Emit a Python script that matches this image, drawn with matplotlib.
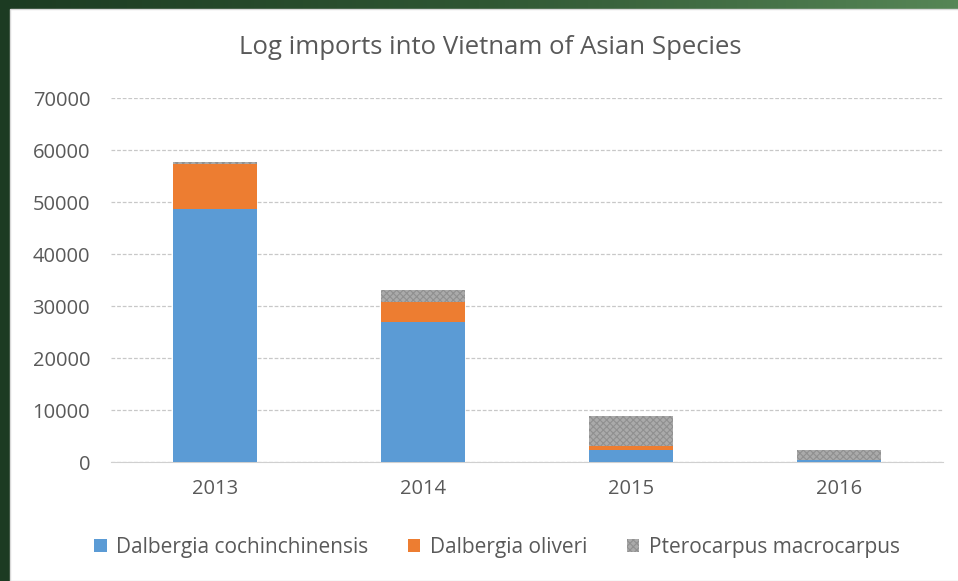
import numpy as np
import matplotlib
matplotlib.use('Agg')
import matplotlib.pyplot as plt
from matplotlib.patches import Rectangle
from matplotlib.colors import LinearSegmentedColormap

# values
years = ['2013', '2014', '2015', '2016']
cochinchinensis = [48650, 27000, 2400, 450]
oliveri = [8650, 3850, 750, 0]
macrocarpus = [300, 2300, 5750, 1850]

plt.rcParams['font.family'] = ['Open Sans', 'DejaVu Sans']
plt.rcParams['hatch.linewidth'] = 0.8

fig = plt.figure(figsize=(9.58, 5.81), dpi=100)

# green slide background with a gradient, white chart panel on top
bg = fig.add_axes([0, 0, 1, 1], zorder=-10)
grad = np.linspace(0, 1, 256).reshape(1, -1)
cm = LinearSegmentedColormap.from_list('g', ['#1c3b22', '#2f5633', '#568656'])
bg.imshow(grad, aspect='auto', cmap=cm, extent=[0, 1, 0, 1])
bg.set_xlim(0, 1)
bg.set_ylim(0, 1)
bg.add_patch(Rectangle((10 / 958, 0), 1, 1 - 9 / 581, facecolor='white', edgecolor='#d9d9d9', linewidth=1))
bg.axis('off')

ax = fig.add_axes([111 / 958, 119 / 581, (943 - 111) / 958, (462 - 98) / 581])
ax.set_facecolor('none')

x = np.arange(len(years))
w = 0.4
blue = ax.bar(x, cochinchinensis, w, color='#5b9bd5', label='Dalbergia cochinchinensis', zorder=3)
orange = ax.bar(x, oliveri, w, bottom=cochinchinensis, color='#ed7d31', label='Dalbergia oliveri', zorder=3)
bottom2 = np.array(cochinchinensis) + np.array(oliveri)
gray = ax.bar(x, macrocarpus, w, bottom=bottom2, facecolor='#aaaaaa', edgecolor='#909090',
              hatch='xxxxx', linewidth=0, label='Pterocarpus macrocarpus', zorder=3)

ax.set_xlim(-0.5, 3.5)
ax.set_ylim(0, 70000)
ax.set_yticks(np.arange(0, 70001, 10000))
ax.set_xticks(x)
ax.set_xticklabels(years)
ax.yaxis.grid(True, color='#c8c8c8', linestyle=(0, (3, 1.5)), linewidth=0.9, zorder=0)
for s in ['top', 'right', 'left']:
    ax.spines[s].set_visible(False)
ax.spines['bottom'].set_color('#d0d0d0')
ax.tick_params(axis='both', length=0, labelsize=14.5, labelcolor='#595959')
ax.tick_params(axis='y', pad=15)
ax.tick_params(axis='x', pad=12)

fig.text(490 / 958, 1 - 48 / 581, 'Log imports into Vietnam of Asian Species',
         ha='center', va='center', fontsize=18.5, color='#595959')

leg = fig.legend(handles=[blue, orange, gray], loc='center', bbox_to_anchor=(497 / 958, 1 - 547 / 581),
                 ncol=3, frameon=False, fontsize=15, handlelength=0.6, handleheight=0.6,
                 handletextpad=0.45, columnspacing=1.9)
for t in leg.get_texts():
    t.set_color('#595959')

fig.savefig('out.png', dpi=100)
